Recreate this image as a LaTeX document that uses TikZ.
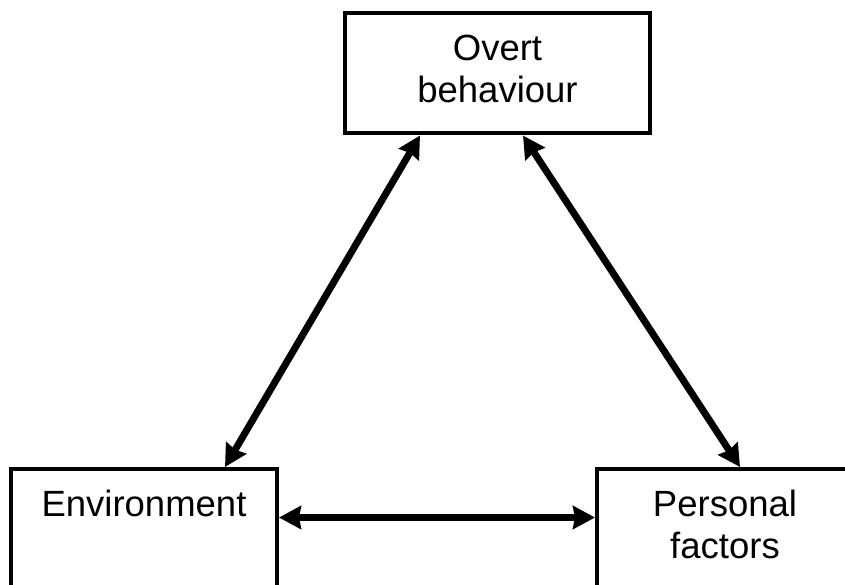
\documentclass[tikz,border=0pt]{standalone}
\usepackage{fontspec}
\setmainfont{Liberation Sans}
\usetikzlibrary{positioning}
\usetikzlibrary{arrows.meta}

\begin{document}
\begin{tikzpicture}[x=1pt, y=1pt,
        factor/.style={draw, rectangle, line width=4pt, minimum height=120pt, inner sep=0pt, align=center, text depth=9.5pt, font=\fontsize{36.5}{41.5}\selectfont},
        link/.style={line width=7pt, {Stealth[length=22pt, width=23pt, inset=2pt]}-{Stealth[length=22pt, width=23pt, inset=2pt]}}]
        \clip (0,0) rectangle (845,-585);
        % boxes
        \node [factor, minimum width=305pt] (behav) at (497.5,-73.5) {Overt\\behaviour};
        \node [factor, minimum width=266pt, text depth=50.5pt, below left = 331.5pt and 64pt of behav] (env) {Environment};
        \node [factor, minimum width=256pt, right = 316pt of env] (pers) {Personal\\factors};
        % arrows
        \draw[link] ([xshift=-77.5pt]behav.south) -- ([xshift=81pt]env.north);
        \draw[link] ([xshift=25.5pt]behav.south) -- ([xshift=15pt]pers.north);
        \draw[link] ([yshift=11.5pt]env.east) -- ([yshift=11.5pt]pers.west);
    \end{tikzpicture}
\end{document}
